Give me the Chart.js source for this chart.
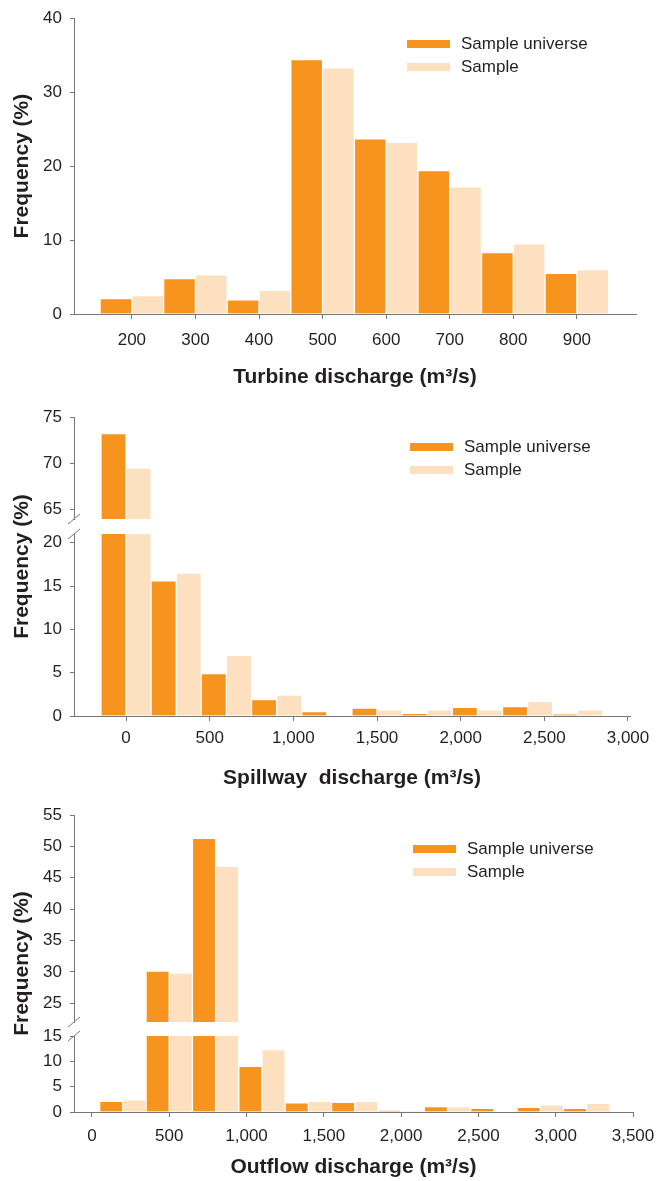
<!DOCTYPE html>
<html>
<head>
<meta charset="utf-8">
<script src="https://cdn.jsdelivr.net/npm/chart.js@4.4.1/dist/chart.umd.min.js"></script>
<style>
  body { margin: 0; background: #fff; }
  #page { position: relative; width: 658px; height: 1181px; overflow: hidden; }
  #page canvas { position: absolute; left: 0; }
  .legend { position: absolute; font: 17px "Liberation Sans", Arial, sans-serif; color: #231f20; }
  .legend div { display: flex; align-items: center; height: 22.5px; white-space: nowrap; }
  .legend .sw { display: inline-block; width: 43px; height: 8px; margin-right: 11px; }
</style>
</head>
<body>
<div id="page">
  <canvas id="turbine" width="658" height="400" style="top:0px"></canvas>
  <canvas id="spillway" width="658" height="405" style="top:390px"></canvas>
  <canvas id="outflow" width="658" height="391" style="top:790px"></canvas>
</div>
<script>
const seriesNames = ['Sample universe', 'Sample'];
const seriesColors = ['#f7941d', '#fde0c0'];

// turbine discharge, bins of 100 m3/s
const turbineBins = [200, 300, 400, 500, 600, 700, 800, 900];
const turbineUniverse = [2.1, 4.8, 1.9, 34.4, 23.7, 19.4, 8.3, 5.5];
const turbineSample = [2.5, 5.3, 3.2, 33.3, 23.2, 17.2, 9.5, 6.0];
const turbineXTicks = [200, 300, 400, 500, 600, 700, 800, 900];
const turbineYTicks = [0, 10, 20, 30, 40];

// spillway discharge, bins of 300 m3/s
const spillBins = [0, 300, 600, 900, 1200, 1500, 1800, 2100, 2400, 2700];
const spillUniverse = [73.2, 15.6, 4.9, 1.9, 0.5, 0.9, 0.3, 1.0, 1.1, 0.2];
const spillSample = [69.5, 16.5, 7.0, 2.4, 0, 0.7, 0.7, 0.7, 1.7, 0.7];
const spillXTicks = [0, 500, 1000, 1500, 2000, 2500, 3000];
const spillYTicksLow = [0, 5, 10, 15, 20];
const spillYTicksHigh = [65, 70, 75];

// outflow discharge, bins of 300 m3/s
const outflowBins = [200, 500, 800, 1100, 1400, 1700, 2000, 2300, 2600, 2900, 3200];
const outflowUniverse = [2.1, 30.1, 51.3, 9.0, 1.8, 1.9, 0.3, 1.05, 0.7, 0.9, 0.7];
const outflowSample = [2.4, 29.8, 46.8, 12.3, 2.1, 2.1, 0.2, 1.0, 0, 1.4, 1.7];
const outflowXTicks = [0, 500, 1000, 1500, 2000, 2500, 3000, 3500];
const outflowYTicksLow = [0, 5, 10, 15];
const outflowYTicksHigh = [25, 30, 35, 40, 45, 50, 55];

const fontFamily = '"Liberation Sans", Arial, Helvetica, sans-serif';
const textColor = '#231f20';
const axisColor = '#767676';
const tickFont = { family: fontFamily, size: 17 };
const titleFont = { family: fontFamily, size: 21, weight: 'bold' };

function points(bins, values) {
    return bins.map((b, i) => ({ x: b, y: values[i] }));
}

function barSet(i, bins, values, axis) {
    return {
        label: seriesNames[i],
        data: points(bins, values),
        yAxisID: axis,
        stack: i === 0 ? 'u' : 's',
        backgroundColor: seriesColors[i],
        borderColor: 'rgba(255,255,255,0.6)',
        borderWidth: 1,
        categoryPercentage: 1,
        barPercentage: 1,
        clip: 0
    };
}

function yAxis(ticks, min, max, weight) {
    return {
        type: 'linear',
        position: 'left',
        min: min,
        max: max,
        stack: 'freq',
        stackWeight: weight,
        afterBuildTicks: s => { s.ticks = ticks.map(v => ({ value: v })); },
        afterFit: s => { s.width = 74; },
        grid: { drawOnChartArea: false, tickLength: 4, color: axisColor },
        border: { color: axisColor },
        ticks: { font: tickFont, color: textColor, padding: 8, autoSkip: false }
    };
}

function xAxis(ticks, min, max, height, tickPad, title, titlePad) {
    return {
        type: 'linear',
        min: min,
        max: max,
        offset: false,
        afterBuildTicks: s => { s.ticks = ticks.map(v => ({ value: v })); },
        afterFit: s => {
            s.height = height;
            s.paddingLeft = 0;
            s.paddingRight = 0;
        },
        grid: { drawOnChartArea: false, offset: false, tickLength: 5, color: axisColor },
        border: { color: axisColor },
        ticks: {
            font: tickFont, color: textColor, padding: tickPad, maxRotation: 0, autoSkip: false,
            callback: v => v.toLocaleString('en-US')
        },
        title: { display: true, text: title, font: titleFont, color: textColor, padding: { top: 0, bottom: titlePad } }
    };
}

// y title centred on the plot, and the // marks where the axis is broken
const decorations = {
    id: 'decorations',
    afterDraw(chart) {
        let ctx = chart.ctx;
        let area = chart.chartArea;
        ctx.save();
        ctx.fillStyle = textColor;
        ctx.font = 'bold 21px ' + fontFamily;
        ctx.textAlign = 'center';
        ctx.textBaseline = 'middle';
        ctx.translate(22, (area.top + area.bottom) / 2);
        ctx.rotate(-Math.PI / 2);
        ctx.fillText('Frequency (%)', 0, 0);
        ctx.restore();

        let low = chart.scales.yLow;
        let high = chart.scales.yHigh;
        if (low && high) {
            ctx.save();
            ctx.strokeStyle = axisColor;
            ctx.lineWidth = 1;
            [high.bottom, low.top].forEach(y => {
                ctx.beginPath();
                ctx.moveTo(low.right - 6, y + 5);
                ctx.lineTo(low.right + 6, y - 5);
                ctx.stroke();
            });
            ctx.restore();
        }
    }
};

function baseOptions(padding, scales) {
    return {
        responsive: false,
        animation: false,
        devicePixelRatio: 1,
        layout: { padding: padding },
        plugins: { legend: { display: false }, tooltip: { enabled: false } },
        scales: scales
    };
}

new Chart(document.getElementById('turbine'), {
    type: 'bar',
    data: {
        datasets: [
            barSet(0, turbineBins, turbineUniverse, 'y'),
            barSet(1, turbineBins, turbineSample, 'y')
        ]
    },
    options: baseOptions({ top: 16, right: 22, left: 0, bottom: 0 }, {
        x: xAxis(turbineXTicks, 109, 993, 86, 11, 'Turbine discharge (m³/s)', 10),
        y: Object.assign(yAxis(turbineYTicks, 0, 40, 1), { stack: undefined })
    }),
    plugins: [decorations]
});

function brokenChart(id, bins, universe, sample, cfg) {
    return new Chart(document.getElementById(id), {
        type: 'bar',
        data: {
            datasets: [
                barSet(0, bins, universe, 'yLow'),
                barSet(1, bins, sample, 'yLow'),
                barSet(0, bins, universe, 'yHigh'),
                barSet(1, bins, sample, 'yHigh')
            ]
        },
        options: baseOptions(cfg.padding, {
            x: xAxis(cfg.xTicks, cfg.xMin, cfg.xMax, cfg.xHeight, cfg.tickPad, cfg.title, cfg.titlePad),
            yLow: yAxis(cfg.lowTicks, cfg.lowRange[0], cfg.lowRange[1], cfg.weights[0]),
            yGap: { type: 'linear', display: false, stack: 'freq', stackWeight: cfg.weights[1], afterFit: s => { s.width = 74; } },
            yHigh: yAxis(cfg.highTicks, cfg.highRange[0], cfg.highRange[1], cfg.weights[2])
        }),
        plugins: [decorations]
    });
}

brokenChart('spillway', spillBins, spillUniverse, spillSample, {
    padding: { top: 27, right: 28, left: 0, bottom: 0 },
    xTicks: spillXTicks, xMin: -311, xMax: 3012, xHeight: 79, tickPad: 7,
    title: 'Spillway  discharge (m³/s)', titlePad: 4,
    lowTicks: spillYTicksLow, lowRange: [0, 21],
    highTicks: spillYTicksHigh, highRange: [64, 75],
    weights: [182, 15, 102]
});

brokenChart('outflow', outflowBins, outflowUniverse, outflowSample, {
    padding: { top: 25, right: 25, left: 0, bottom: 0 },
    xTicks: outflowXTicks, xMin: -116, xMax: 3500, xHeight: 69, tickPad: 9,
    title: 'Outflow discharge (m³/s)', titlePad: 1,
    lowTicks: outflowYTicksLow, lowRange: [0, 15],
    highTicks: outflowYTicksHigh, highRange: [22, 55],
    weights: [76, 14, 207]
});

function addLegend(top, left) {
    let box = document.createElement('div');
    box.className = 'legend';
    box.style.top = top + 'px';
    box.style.left = left + 'px';
    seriesNames.forEach((name, i) => {
        let row = document.createElement('div');
        let sw = document.createElement('span');
        sw.className = 'sw';
        sw.style.background = seriesColors[i];
        row.appendChild(sw);
        row.appendChild(document.createTextNode(name));
        box.appendChild(row);
    });
    document.getElementById('page').appendChild(box);
}

addLegend(33, 407);
addLegend(436, 410);
addLegend(838, 413);
</script>
</body>
</html>
